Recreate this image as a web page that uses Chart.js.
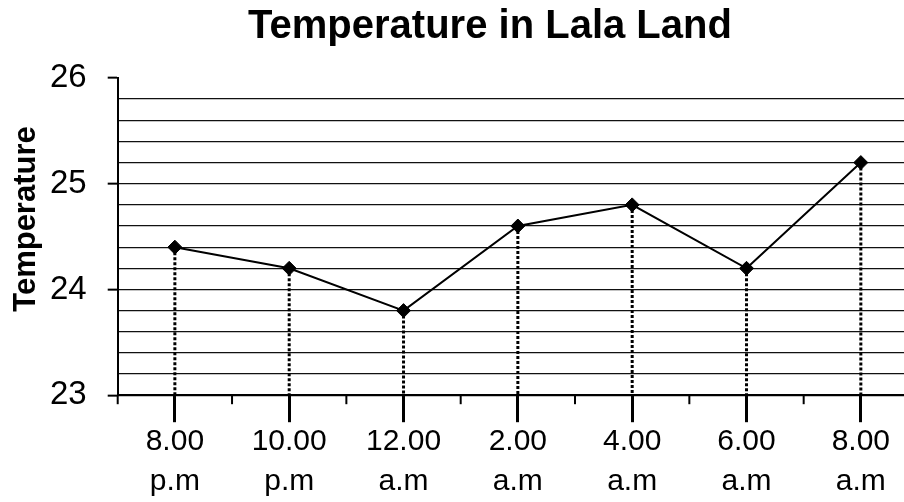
<!DOCTYPE html>
<html lang="en">
<head>
    <title>Temperature in Lala Land</title>
    <script src="https://cdn.jsdelivr.net/npm/chart.js"></script>
    <style>
        html, body {
            margin: 0;
            padding: 0;
            background: #fff;
            overflow: hidden;
        }
        .chart-box {
            width: 926px;
            height: 502px;
        }
    </style>
</head>
<body>
<div class="chart-box">
    <canvas id="tempChart"></canvas>
</div>

<script>
    // data
    const chartTitle = 'Temperature in Lala Land';
    const axisTitle = 'Temperature';
    const timeLabels = [
        ['8.00', 'p.m'], ['10.00', 'p.m'], ['12.00', 'a.m'], ['2.00', 'a.m'],
        ['4.00', 'a.m'], ['6.00', 'a.m'], ['8.00', 'a.m']
    ];
    const temperatures = [24.4, 24.2, 23.8, 24.6, 24.8, 24.2, 25.2];
    const yLabelValues = [23, 24, 25, 26];

    const font = '"Liberation Sans", Arial, sans-serif';
    const isMajor = v => yLabelValues.some(m => Math.abs(m - v) < 1e-6);

    // titles, dotted drop lines and small ticks between categories
    const extras = {
        id: 'extras',
        beforeDatasetsDraw(chart) {
            const ctx = chart.ctx;
            const x = chart.scales.x;
            const bottom = chart.chartArea.bottom;
            ctx.save();
            ctx.strokeStyle = '#000';
            ctx.lineWidth = 3;
            ctx.setLineDash([3, 2]);
            chart.getDatasetMeta(0).data.forEach(p => {
                ctx.beginPath();
                ctx.moveTo(p.x, p.y);
                ctx.lineTo(p.x, bottom);
                ctx.stroke();
            });
            ctx.setLineDash([]);
            ctx.lineWidth = 2;
            const n = timeLabels.length;
            for (let i = 0; i <= n; i++) {
                const px = x.left + i * (x.right - x.left) / n;
                ctx.beginPath();
                ctx.moveTo(px, bottom);
                ctx.lineTo(px, bottom + 9);
                ctx.stroke();
            }
            ctx.restore();
        },
        afterDraw(chart) {
            const ctx = chart.ctx;
            ctx.save();
            ctx.fillStyle = '#000';
            ctx.font = 'bold 40px ' + font;
            ctx.textAlign = 'center';
            ctx.textBaseline = 'middle';
            ctx.fillText(chartTitle, 490, 27);
            ctx.font = 'bold 31px ' + font;
            ctx.translate(26, 219);
            ctx.rotate(-Math.PI / 2);
            ctx.fillText(axisTitle, 0, 0);
            ctx.restore();
        }
    };

    new Chart(document.getElementById('tempChart'), {
        type: 'line',
        data: {
            labels: timeLabels,
            datasets: [{
                data: temperatures,
                borderColor: '#000',
                borderWidth: 2,
                backgroundColor: '#000',
                pointStyle: 'rectRot',
                pointRadius: 7,
                pointBorderWidth: 1,
                tension: 0,
                fill: false
            }]
        },
        options: {
            responsive: true,
            maintainAspectRatio: false,
            animation: false,
            layout: { padding: { top: 78, right: 1, left: 29, bottom: 0 } },
            plugins: {
                legend: { display: false },
                tooltip: { enabled: false }
            },
            scales: {
                x: {
                    offset: true,
                    grid: {
                        drawOnChartArea: false,
                        tickLength: 27,
                        tickWidth: 3,
                        tickColor: '#000'
                    },
                    border: { color: '#000', width: 2 },
                    ticks: {
                        color: '#000',
                        font: { family: font, size: 30, lineHeight: 1.33 },
                        padding: 0,
                        maxRotation: 0,
                        autoSkip: false
                    }
                },
                y: {
                    min: 23,
                    max: 26,
                    grid: {
                        color: c => (c.tick && Math.abs(c.tick.value - 26) < 1e-6) ? 'rgba(0,0,0,0)' : '#111',
                        lineWidth: 1.3,
                        tickLength: 10,
                        tickWidth: 2,
                        tickColor: c => (c.tick && isMajor(c.tick.value)) ? '#000' : 'rgba(0,0,0,0)'
                    },
                    border: { color: '#000', width: 2 },
                    ticks: {
                        stepSize: 0.2,
                        maxTicksLimit: 30,
                        autoSkip: false,
                        color: '#000',
                        padding: 21,
                        font: { family: font, size: 33 },
                        callback: v => isMajor(v) ? String(Math.round(v)) : ''
                    }
                }
            }
        },
        plugins: [extras]
    });
</script>
</body>
</html>
